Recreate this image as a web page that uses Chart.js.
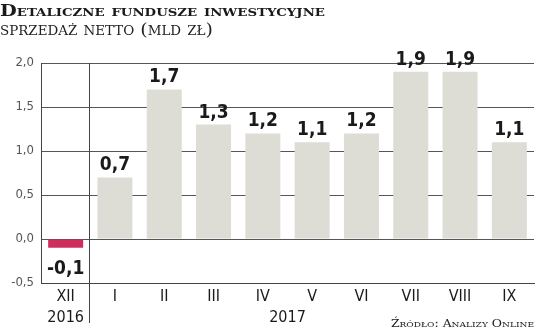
<!DOCTYPE html>
<html lang="pl">
  <head>
    <title>Detaliczne fundusze inwestycyjne</title>
    <meta charset="utf-8">
    <script src="https://cdn.jsdelivr.net/npm/chart.js@4.4.1/dist/chart.umd.min.js"></script>
    <style>
      html, body { margin: 0; padding: 0; background: #fff; }
      #wrap { position: relative; width: 536px; height: 329px; }
    </style>
  </head>
  <body>
    <div id="wrap"><canvas id="myChart1"></canvas></div>
  </body>
  <script>
    // dane
    var miesiace = ['XII', 'I', 'II', 'III', 'IV', 'V', 'VI', 'VII', 'VIII', 'IX'];
    var sprzedaz = [-0.1, 0.7, 1.7, 1.3, 1.2, 1.1, 1.2, 1.9, 1.9, 1.1];
    var lata = ['2016', '2017'];
    var tytul = 'Detaliczne fundusze inwestycyjne';
    var podtytul = 'sprzedaż netto (mld zł)';
    var zrodlo = 'Źródło: Analizy Online';

    var condensed = '"DejaVu Sans Condensed", "Liberation Sans Narrow", "DejaVu Sans", sans-serif';
    var serif = '"DejaVu Serif", "Liberation Serif", serif';

    function przecinek(v, d) {
      return v.toFixed(d).replace('.', ',');
    }

    // tekst rozciągnięty w poziomie (szeroki krój jak w oryginale)
    function napis(ctx, txt, x, y, font, sx, align) {
      ctx.save();
      ctx.fontVariantCaps = 'small-caps';
      ctx.font = font;
      ctx.textAlign = 'left';
      var w = ctx.measureText(txt).width * sx;
      var x0 = align === 'right' ? x - w : x;
      ctx.translate(x0, y);
      ctx.scale(sx, 1);
      ctx.fillText(txt, 0, 0);
      ctx.restore();
    }

    var dodatki = {
      id: 'dodatki',
      afterDatasetsDraw: function(chart) {
        var ctx = chart.ctx;
        var meta = chart.getDatasetMeta(0);
        ctx.save();
        ctx.fillStyle = '#1a1a1a';
        ctx.font = 'bold 19px ' + condensed;
        ctx.textAlign = 'center';
        ctx.textBaseline = 'alphabetic';
        meta.data.forEach(function(bar, i) {
          var v = sprzedaz[i];
          if (v >= 0) {
            ctx.fillText(przecinek(v, 1), bar.x, bar.y - 7);
          } else {
            ctx.fillText(przecinek(v, 1), bar.x, bar.y + 26);
          }
        });
        ctx.restore();
      },
      afterDraw: function(chart) {
        var ctx = chart.ctx;
        var x = chart.scales.x;
        var area = chart.chartArea;
        ctx.save();
        // linia oddzielająca lata
        var sep = Math.round((x.getPixelForValue(0) + x.getPixelForValue(1)) / 2) - 0.5;
        ctx.strokeStyle = '#444';
        ctx.lineWidth = 1;
        ctx.beginPath();
        ctx.moveTo(sep, area.top);
        ctx.lineTo(sep, 323);
        ctx.stroke();

        // lata
        ctx.fillStyle = '#1a1a1a';
        ctx.font = '16px ' + condensed;
        ctx.textAlign = 'center';
        ctx.textBaseline = 'alphabetic';
        ctx.fillText(lata[0], x.getPixelForValue(0), 322);
        ctx.fillText(lata[1], (x.getPixelForValue(1) + x.getPixelForValue(8)) / 2, 322);

        // tytuł, podtytuł, źródło
        ctx.fillStyle = '#1a1a1a';
        napis(ctx, tytul, 0, 16, 'small-caps bold 16px ' + serif, 1.21, 'left');
        ctx.fillStyle = '#222';
        napis(ctx, podtytul, 0, 35, 'small-caps 17px ' + serif, 1.12, 'left');
        napis(ctx, zrodlo, 534, 327, 'small-caps 11px ' + serif, 1.13, 'right');
        ctx.restore();
      }
    };

    var ctx = document.getElementById('myChart1').getContext('2d');
    var myChart1 = new Chart(ctx, {
      type: 'bar',
      data: {
        labels: miesiace,
        datasets: [{
          data: sprzedaz,
          backgroundColor: sprzedaz.map(function(v) { return v < 0 ? '#cf2d5c' : '#dddcd5'; }),
          borderWidth: 0,
          barPercentage: 0.71,
          categoryPercentage: 1
        }]
      },
      options: {
        responsive: true,
        maintainAspectRatio: false,
        animation: false,
        layout: { padding: { top: 63, right: 2, left: 0, bottom: 0 } },
        plugins: {
          legend: { display: false },
          tooltip: { enabled: false }
        },
        scales: {
          x: {
            grid: { display: false, drawTicks: false },
            border: { display: true, color: '#444' },
            ticks: {
              color: '#1a1a1a',
              font: { family: condensed, size: 16 },
              padding: 4,
              maxRotation: 0
            },
            afterFit: function(scale) { scale.height = 46; }
          },
          y: {
            min: -0.5,
            max: 2,
            grid: { color: '#555', drawTicks: false },
            border: { display: true, color: '#444' },
            ticks: {
              stepSize: 0.5,
              color: '#555',
              font: { family: condensed, size: 13 },
              padding: 7,
              callback: function(v) { return przecinek(v, 1); }
            },
            afterFit: function(scale) { scale.width = 41; }
          }
        }
      },
      plugins: [dodatki]
    });
  </script>
</html>
